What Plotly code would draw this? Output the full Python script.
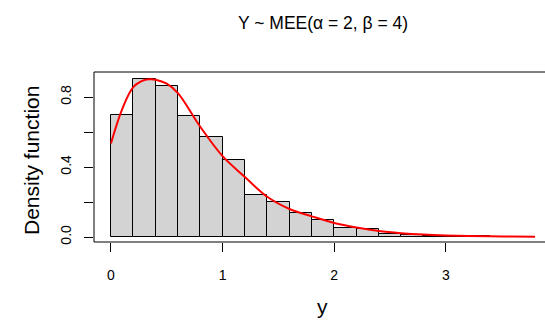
import plotly.graph_objects as go

# Histogram (density scale), bins of width 0.2 from 0 to 3.8
bin_left = [0.0, 0.2, 0.4, 0.6, 0.8, 1.0, 1.2, 1.4, 1.6, 1.8,
            2.0, 2.2, 2.4, 2.6, 2.8, 3.0, 3.2, 3.4, 3.6]
bin_width = 0.2
density = [0.700, 0.905, 0.865, 0.690, 0.571, 0.438, 0.240, 0.198, 0.140, 0.100,
           0.049, 0.048, 0.016, 0.010, 0.008, 0.004, 0.003, 0.002, 0.002]

# Fitted density curve
curve_x = [0.0, 0.1, 0.2, 0.3, 0.35, 0.4, 0.5, 0.6, 0.8, 1.0, 1.2, 1.4, 1.6,
           1.8, 2.0, 2.2, 2.4, 2.6, 2.8, 3.0, 3.2, 3.4, 3.6, 3.8]
curve_y = [0.535, 0.73, 0.857, 0.897, 0.901, 0.899, 0.876, 0.822, 0.630, 0.462,
           0.343, 0.230, 0.160, 0.118, 0.080, 0.054, 0.034, 0.022, 0.014, 0.009,
           0.006, 0.004, 0.003, 0.002]

x_ticks = [0, 1, 2, 3]
y_ticks = [0.0, 0.2, 0.4, 0.6, 0.8]
y_ticktext = ["0.0", "", "0.4", "", "0.8"]

FONT = "Liberation Sans, Arial, sans-serif"

fig = go.Figure()
fig.add_trace(go.Bar(
    x=[b + bin_width / 2 for b in bin_left],
    y=density,
    width=bin_width,
    marker=dict(color="#D3D3D3", line=dict(color="black", width=1)),
    hoverinfo="skip",
))
fig.add_trace(go.Scatter(
    x=curve_x, y=curve_y, mode="lines",
    line=dict(color="red", width=2, shape="spline", smoothing=1.0),
    hoverinfo="skip",
))

fig.update_layout(
    width=545, height=320,
    margin=dict(l=94, r=0, t=72, b=78),
    paper_bgcolor="white", plot_bgcolor="white",
    showlegend=False,
    bargap=0,
    font=dict(family=FONT, color="black"),
    xaxis=dict(
        range=[-0.152, 3.889], showgrid=False, zeroline=False, automargin=False,
        tickmode="array", tickvals=x_ticks, ticktext=[str(v) for v in x_ticks],
        ticks="outside", ticklen=9, tickwidth=1, tickcolor="black",
        tickfont=dict(size=14, family=FONT), ticklabelstandoff=11,
        showline=False,
    ),
    yaxis=dict(
        range=[-0.0286, 0.943], showgrid=False, zeroline=False, automargin=False,
        tickmode="array", tickvals=y_ticks, ticktext=y_ticktext,
        ticks="outside", ticklen=9, tickwidth=1, tickcolor="black",
        tickfont=dict(size=14, family=FONT), tickangle=-90, ticklabelstandoff=7,
        showline=False,
    ),
    shapes=[
        dict(type="line", xref="paper", yref="paper", x0=0, x1=1, y0=1, y1=1,
             line=dict(color="black", width=1)),
        dict(type="line", xref="paper", yref="paper", x0=0, x1=1, y0=0, y1=0,
             line=dict(color="black", width=1)),
        dict(type="line", xref="paper", yref="paper", x0=0, x1=0, y0=0, y1=1,
             line=dict(color="black", width=1)),
    ],
    annotations=[
        dict(text="Y ~ MEE(α = 2, β = 4)", xref="paper", yref="paper",
             x=(323 - 94) / 451, y=1 + (72 - 23) / 170, showarrow=False,
             xanchor="center", yanchor="middle", font=dict(size=17.5, family=FONT)),
        dict(text="Density function", xref="paper", yref="paper",
             x=-(94 - 31) / 451, y=(242 - 161) / 170, textangle=-90, showarrow=False,
             xanchor="center", yanchor="middle", font=dict(size=21, family=FONT)),
        dict(text="y", xref="paper", yref="paper",
             x=(322 - 94) / 451, y=-(306 - 242) / 170, showarrow=False,
             xanchor="center", yanchor="middle", font=dict(size=21, family=FONT)),
    ],
)

fig.write_html("out.html", config={"displayModeBar": False},
               post_script="document.body.style.margin='0';")
